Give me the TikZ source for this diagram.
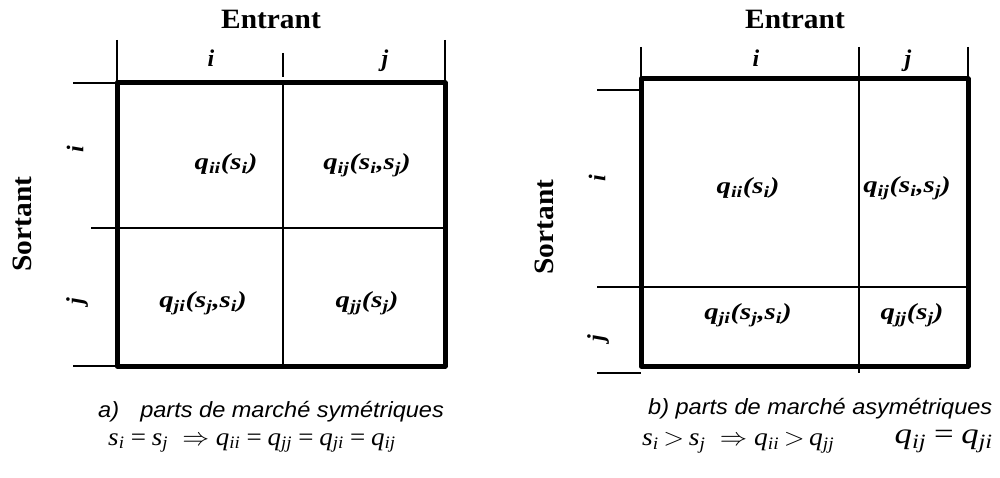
\documentclass[tikz,border=0pt]{standalone}
\usepackage{graphicx}
\usepackage{fontspec}
\setmainfont{Liberation Serif}
\newfontfamily\capfont{Liberation Sans}
\newcommand\sbx[1]{\textsubscript{#1}}
\newcommand\xs[2]{\scalebox{#1}[1]{#2}}
\begin{document}
\begin{tikzpicture}[x=1pt,y=-1pt,
  thickbox/.style={line width=5pt, line join=round},
  thinline/.style={line width=1.2pt},
  head/.style={font=\fontsize{28}{32}\selectfont\bfseries, inner sep=0pt},
  idx/.style={font=\fontsize{24}{28}\selectfont\bfseries\itshape, inner sep=0pt},
  cell/.style={font=\fontsize{23}{27}\selectfont\bfseries\itshape, inner sep=0pt},
  captxt/.style={font=\fontsize{22}{26}\selectfont\capfont\itshape, inner sep=0pt},
  formula/.style={font=\fontsize{25}{29}\selectfont\itshape, inner sep=0pt}
]
\useasboundingbox (0,0) rectangle (1000,478);
% ---------- left diagram ----------
\draw[thinline] (117,40) -- (117,83);
\draw[thinline] (445,40) -- (445,83);
\draw[thinline] (283,53) -- (283,77);
\draw[thinline] (283,83) -- (283,366);
\draw[thinline] (73,83) -- (117,83);
\draw[thinline] (73,366) -- (117,366);
\draw[thinline] (91,228) -- (445,228);
\draw[thickbox] (117,83) rectangle (445,366);
\node[head] (Ea) at (271,19) {\xs{1.05}{Entrant}};
\node[head, rotate=90] (Sa) at (22,224) {\xs{1.05}{Sortant}};
\node[idx] (ia) at (211,58) {i};
\node[idx] (ja) at (385,61) {j};
\node[idx, rotate=90] (ila) at (75,149) {i};
\node[idx, rotate=90] (jla) at (77,301) {j};
\node[cell] (qiia) at (226,164) {\xs{1.25}{q\sbx{ii}(s\sbx{i})}};
\node[cell] (qija) at (367,165) {\xs{1.25}{q\sbx{ij}(s\sbx{i},s\sbx{j})}};
\node[cell] (qjia) at (203,303) {\xs{1.25}{q\sbx{ji}(s\sbx{j},s\sbx{i})}};
\node[cell] (qjja) at (367,303) {\xs{1.25}{q\sbx{jj}(s\sbx{j})}};
\node[captxt, anchor=west] (ca) at (98,412) {\xs{1.07}{a)\hspace{0.9em}parts de marché symétriques}};
\node[formula] (fa) at (252,443) {\xs{1.08}{s\sbx{i}\,=\,s\sbx{j}\; $\Rightarrow$ q\sbx{ii}\,=\,q\sbx{jj}\,=\,q\sbx{ji}\,=\,q\sbx{ij}}};
% ---------- right diagram ----------
\draw[thinline] (641,47) -- (641,79);
\draw[thinline] (968,47) -- (968,79);
\draw[thinline] (859,47) -- (859,373);
\draw[thinline] (597,90) -- (641,90);
\draw[thinline] (597,373) -- (641,373);
\draw[thinline] (597,287) -- (968,287);
\draw[thickbox] (641,79) rectangle (968,366);
\node[head] (Eb) at (795,19) {\xs{1.05}{Entrant}};
\node[head, rotate=90] (Sb) at (544,227) {\xs{1.05}{Sortant}};
\node[idx] (ib) at (756,58) {i};
\node[idx] (jb) at (908,61) {j};
\node[idx, rotate=90] (ilb) at (597,178) {i};
\node[idx, rotate=90] (jlb) at (598,338) {j};
\node[cell] (qiib) at (748,188) {\xs{1.25}{q\sbx{ii}(s\sbx{i})}};
\node[cell] (qijb) at (907,188) {\xs{1.25}{q\sbx{ij}(s\sbx{i},s\sbx{j})}};
\node[cell] (qjib) at (748,315) {\xs{1.25}{q\sbx{ji}(s\sbx{j},s\sbx{i})}};
\node[cell] (qjjb) at (912,315) {\xs{1.25}{q\sbx{jj}(s\sbx{j})}};
\node[captxt, anchor=west] (cb) at (648,409) {\xs{1.07}{b) parts de marché asymétriques}};
\node[formula, anchor=west] (fb) at (642,443) {\xs{1.1}{s\sbx{i}\,$>$\,s\sbx{j}\; $\Rightarrow$ q\sbx{ii}\,$>$\,q\sbx{jj}}};
\node[formula, font=\fontsize{29}{33}\selectfont\itshape, anchor=east] (gb) at (993,441) {\xs{1.2}{q\sbx{ij}\,=\,q\sbx{ji}}};
\end{tikzpicture}
\end{document}
